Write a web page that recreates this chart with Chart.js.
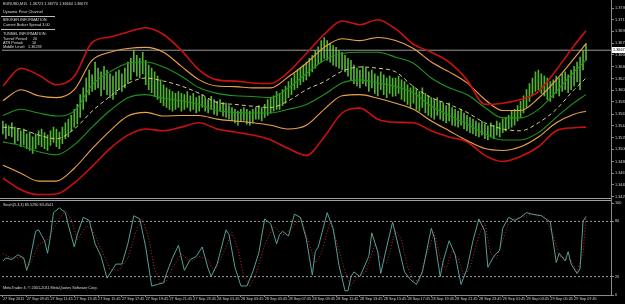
<!DOCTYPE html>
<html><head><meta charset="utf-8">
<script src="https://cdn.jsdelivr.net/npm/chart.js@4"></script>
<style>
html,body{margin:0;padding:0;background:#000;width:625px;height:304px;overflow:hidden}
#c1{position:absolute;left:0;top:0}
#c2{position:absolute;left:0;top:199px}
</style></head><body>
<canvas id="c1" width="625" height="199"></canvas>
<canvas id="c2" width="625" height="105"></canvas>
<script>
// ---------- DATA ----------
const barHigh = [1.3552,1.3547,1.3544,1.3549,1.3542,1.3539,1.3536,1.3539,1.3531,1.3534,
1.3526,1.3531,1.3536,1.3539,1.3533,1.3529,1.3536,1.3542,1.3539,1.3534,
1.3542,1.3549,1.3555,1.3561,1.3571,1.3579,1.3595,1.3606,1.3622,1.3635,
1.3627,1.3648,1.3638,1.3632,1.3641,1.3635,1.3629,1.3625,1.3632,1.3635,
1.3629,1.3638,1.3648,1.3654,1.3667,1.3659,1.3654,1.3664,1.3651,1.3643,
1.3638,1.3632,1.3625,1.3619,1.3611,1.3606,1.3603,1.3600,1.3597,1.3600,
1.3597,1.3595,1.3600,1.3593,1.3597,1.3590,1.3593,1.3595,1.3590,1.3587,
1.3592,1.3587,1.3584,1.3587,1.3582,1.3581,1.3577,1.3574,1.3571,1.3568,
1.3571,1.3574,1.3571,1.3568,1.3571,1.3574,1.3577,1.3574,1.3579,1.3587,
1.3590,1.3593,1.3600,1.3597,1.3603,1.3609,1.3616,1.3622,1.3629,1.3635,
1.3638,1.3643,1.3648,1.3654,1.3659,1.3667,1.3673,1.3683,1.3688,1.3683,
1.3678,1.3675,1.3672,1.3667,1.3664,1.3659,1.3654,1.3651,1.3643,1.3638,
1.3635,1.3641,1.3638,1.3632,1.3635,1.3629,1.3625,1.3632,1.3627,1.3622,
1.3625,1.3622,1.3622,1.3625,1.3619,1.3616,1.3611,1.3606,1.3609,1.3603,
1.3600,1.3606,1.3597,1.3593,1.3590,1.3587,1.3590,1.3584,1.3581,1.3577,
1.3581,1.3574,1.3571,1.3568,1.3571,1.3565,1.3561,1.3558,1.3555,1.3552,
1.3549,1.3552,1.3547,1.3544,1.3549,1.3545,1.3552,1.3549,1.3555,1.3558,
1.3561,1.3568,1.3571,1.3577,1.3584,1.3593,1.3603,1.3613,1.3622,1.3632,
1.3635,1.3629,1.3625,1.3622,1.3616,1.3619,1.3625,1.3622,1.3629,1.3632,
1.3627,1.3635,1.3641,1.3648,1.3656,1.3667,1.3678];
const barLow = [1.3531,1.3523,1.3528,1.3526,1.3515,1.3520,1.3510,1.3513,1.3507,1.3504,
1.3499,1.3507,1.3513,1.3510,1.3507,1.3504,1.3512,1.3517,1.3510,1.3507,
1.3515,1.3523,1.3526,1.3536,1.3542,1.3547,1.3558,1.3571,1.3584,1.3595,
1.3600,1.3603,1.3606,1.3593,1.3603,1.3595,1.3590,1.3587,1.3595,1.3603,
1.3600,1.3606,1.3613,1.3619,1.3632,1.3625,1.3622,1.3629,1.3611,1.3603,
1.3598,1.3593,1.3587,1.3582,1.3577,1.3574,1.3571,1.3568,1.3571,1.3574,
1.3568,1.3571,1.3574,1.3568,1.3571,1.3565,1.3568,1.3574,1.3568,1.3565,
1.3571,1.3563,1.3561,1.3568,1.3560,1.3558,1.3555,1.3552,1.3549,1.3545,
1.3552,1.3553,1.3547,1.3545,1.3549,1.3555,1.3555,1.3552,1.3558,1.3561,
1.3565,1.3568,1.3571,1.3571,1.3577,1.3581,1.3590,1.3595,1.3603,1.3606,
1.3611,1.3616,1.3619,1.3625,1.3632,1.3638,1.3645,1.3648,1.3654,1.3651,
1.3648,1.3643,1.3641,1.3638,1.3635,1.3632,1.3625,1.3619,1.3613,1.3609,
1.3606,1.3613,1.3609,1.3600,1.3606,1.3597,1.3593,1.3603,1.3595,1.3590,
1.3597,1.3592,1.3593,1.3597,1.3587,1.3584,1.3579,1.3574,1.3581,1.3571,
1.3568,1.3574,1.3565,1.3561,1.3558,1.3555,1.3561,1.3555,1.3552,1.3549,
1.3552,1.3545,1.3544,1.3542,1.3545,1.3539,1.3536,1.3533,1.3531,1.3528,
1.3526,1.3529,1.3523,1.3521,1.3526,1.3523,1.3529,1.3526,1.3533,1.3536,
1.3539,1.3542,1.3545,1.3552,1.3558,1.3565,1.3574,1.3584,1.3593,1.3600,
1.3603,1.3597,1.3593,1.3587,1.3584,1.3590,1.3597,1.3593,1.3600,1.3603,
1.3598,1.3603,1.3609,1.3616,1.3603,1.3635,1.3651];

const bandIdx = [0,6,12,18,24,30,36,42,48,54,60,66,72,78,84,90,96,102,108,114,120,126,132,138,144,150,156,162,168,174,180,186,192,196];
const redUpper = [1.3609,1.3638,1.3627,1.3611,1.3625,1.3680,1.3689,1.3697,1.3704,1.3693,1.3667,1.3635,1.3619,1.3617,1.3614,1.3613,1.3632,1.3662,1.3693,1.3715,1.3709,1.3717,1.3702,1.3677,1.3664,1.3648,1.3619,1.3579,1.3581,1.3587,1.3600,1.3635,1.3675,1.3699];
const orangeUpper = [1.3585,1.3603,1.3593,1.3590,1.3603,1.3651,1.3664,1.3670,1.3672,1.3664,1.3641,1.3619,1.3609,1.3608,1.3606,1.3606,1.3624,1.3646,1.3672,1.3686,1.3683,1.3688,1.3683,1.3670,1.3648,1.3632,1.3614,1.3587,1.3569,1.3569,1.3589,1.3619,1.3654,1.3678];
const greenUpper = [1.3561,1.3571,1.3565,1.3560,1.3568,1.3611,1.3632,1.3646,1.3648,1.3640,1.3625,1.3606,1.3597,1.3593,1.3592,1.3590,1.3606,1.3629,1.3651,1.3662,1.3664,1.3664,1.3656,1.3646,1.3622,1.3606,1.3595,1.3574,1.3557,1.3557,1.3571,1.3600,1.3632,1.3651];
const middleLine = [1.3542,1.3539,1.3529,1.3523,1.3539,1.3568,1.3592,1.3613,1.3622,1.3617,1.3609,1.3597,1.3582,1.3579,1.3576,1.3574,1.3585,1.3603,1.3616,1.3633,1.3640,1.3638,1.3632,1.3608,1.3590,1.3579,1.3566,1.3549,1.3539,1.3536,1.3549,1.3571,1.3603,1.3622];
const greenLower = [1.3518,1.3512,1.3502,1.3497,1.3513,1.3542,1.3569,1.3590,1.3595,1.3589,1.3585,1.3579,1.3569,1.3566,1.3565,1.3565,1.3571,1.3579,1.3595,1.3614,1.3619,1.3614,1.3608,1.3598,1.3576,1.3561,1.3547,1.3531,1.3521,1.3521,1.3533,1.3558,1.3582,1.3595];
const orangeLower = [1.3480,1.3467,1.3454,1.3454,1.3475,1.3507,1.3536,1.3560,1.3566,1.3560,1.3561,1.3561,1.3555,1.3552,1.3549,1.3545,1.3539,1.3545,1.3571,1.3593,1.3595,1.3589,1.3581,1.3571,1.3552,1.3536,1.3520,1.3507,1.3504,1.3510,1.3526,1.3549,1.3563,1.3568];
const redLower = [1.3459,1.3440,1.3432,1.3433,1.3451,1.3478,1.3507,1.3529,1.3539,1.3536,1.3542,1.3549,1.3539,1.3534,1.3529,1.3521,1.3507,1.3496,1.3526,1.3565,1.3573,1.3555,1.3550,1.3549,1.3536,1.3526,1.3518,1.3496,1.3486,1.3494,1.3510,1.3536,1.3541,1.3542];

const lastPrice = 1.36673;
const priceTicks = [1.37360,1.37170,1.36980,1.36790,1.36600,1.36400,1.36210,1.36020,1.35830,1.35630,1.35440,1.35250,1.35060,1.34860,1.34670,1.34480,1.34290];

const stochIdx = [0,1,3,5,7,8,9,11,12,14,15,16,17,19,21,22,24,25,27,29,31,33,35,37,38,40,42,44,46,48,50,52,54,55,57,59,61,63,65,67,69,70,72,75,76,78,80,82,84,86,88,90,92,93,94,96,98,100,102,104,105,106,109,111,113,115,116,117,118,120,123,124,126,127,129,131,133,135,137,139,141,144,145,147,148,150,152,154,156,158,160,162,163,165,167,168,170,172,174,176,178,181,184,186,187,189,190,191,193,194,195,196];
const stochMain = [36.9,40.3,38.6,43.7,40.3,26.8,36.9,69.2,70.8,59,45.4,64.1,89.5,94.6,89.5,75.9,52.2,65.8,84.4,81,55.6,42,18.3,28.5,33.6,33.6,55.6,86.1,82.7,52.2,9.8,11.5,13.2,23.4,40.3,53.9,26.8,38.6,42,52.2,28.5,20,33.6,70.8,65.8,30.2,9.8,9.8,25.1,45.4,82.7,77.6,55.6,65.8,69.2,64.1,87.8,84.4,60.7,21.7,47.1,52.2,89.5,72.5,31.9,4.7,4.7,20,25.1,20,42,67.5,47.1,23.4,52.2,79.3,52.2,25.1,16.6,11.5,25.1,72.5,62.4,20,37,59,43.7,11.5,28.5,59,82.7,69.2,30.2,42,48.8,72.5,84.4,81,84.4,89.5,87.8,86.1,79.3,35.2,45.4,37,47.1,33.6,23.4,28.5,80,85.5];
const signalIdx = [0,3,6,9,12,15,18,21,23,25,28,30,33,36,39,42,45,47,49,51,53,55,57,60,63,66,69,71,74,77,79,81,83,85,88,91,94,97,100,103,105,107,110,112,115,117,119,122,125,127,129,132,134,136,138,140,142,145,147,149,151,153,155,157,160,162,164,166,168,170,172,175,178,182,185,187,189,191,193,195,196];
const stochSignal = [45,40,41,33,55,60,78,92,82,60,75,72,50,28,27,40,72,82,62,28,12,15,30,45,36,42,38,25,45,68,50,20,10,22,55,75,65,72,85,55,35,45,80,60,25,10,20,25,55,40,35,70,60,30,16,15,40,68,40,28,48,40,20,30,65,78,45,40,60,78,83,85,88,86,65,42,40,38,25,45,83.5];
const stochTicks = [0,20,80,100];
const stochLevels = [80,20];

const timeTickIdx = [0,8,16,24,32,40,48,56,64,72,80,88,96,104,112,120,128,136,144,152,160,168,176,184,192];
const timeLabels = ["27 Sep 2011","27 Sep 09:45","27 Sep 11:45","27 Sep 13:45","27 Sep 15:45","27 Sep 17:45","27 Sep 19:45","27 Sep 21:45","27 Sep 23:45","28 Sep 01:45","28 Sep 03:45","28 Sep 05:45","28 Sep 07:45","28 Sep 09:45","28 Sep 11:45","28 Sep 13:45","28 Sep 15:45","28 Sep 17:45","28 Sep 19:45","28 Sep 21:45","28 Sep 23:45","29 Sep 01:45","29 Sep 03:45","29 Sep 05:45","29 Sep 07:45"];

// ---------- SETUP ----------
const FONT = 'Liberation Sans';
const TINY = 3.8;
Chart.defaults.font.family = FONT;
Chart.defaults.color = '#d0d0d0';
const X_MIN = -0.3, X_MAX = 204.4;
const AXIS = '#8a8a8a';

function pts(idx, vals){ return idx.map((x,i)=>({x:x, y:vals[i]})); }
function band(label, idx, vals, color, width, dash){
  return {type:'line', label, data:pts(idx,vals), borderColor:color, borderWidth:width,
    borderDash:dash||[], pointRadius:0, cubicInterpolationMode:'monotone', fill:false};
}

const mainFrame = {
  id:'mainFrame',
  afterDraw(chart){
    const ctx = chart.ctx, y = chart.scales.y;
    ctx.save();
    ctx.font = TINY + 'px "' + FONT + '"';
    ctx.fillStyle = '#dcdcdc';
    ctx.textBaseline = 'middle';
    ctx.textAlign = 'left';
    ctx.fillText('EURUSD,M15  1.36723 1.36770 1.36664 1.36673', 3, 4);
    ctx.fillText('Dynamic Price Channel', 3, 12);
    ctx.fillText('BROKER INFORMATION:', 3, 20);
    ctx.fillText('Current Broker Spread 3.00', 3, 25);
    ctx.fillText('TUNNEL INFORMATION:', 3, 34);
    ctx.fillText('Tunnel Period:', 3, 39); ctx.fillText('20', 33, 39);
    ctx.fillText('ATR Period:', 3, 43); ctx.fillText('10', 32, 43);
    ctx.fillText('Middle Level:', 3, 47); ctx.fillText('1.36233', 28, 47);
    ctx.fillStyle = '#bdbdbd';
    ctx.fillRect(1, 16, 54, 1);
    ctx.fillRect(1, 29, 54, 1);
    ctx.fillStyle = AXIS;
    ctx.fillRect(611, 0, 1, 199);
    ctx.fillStyle = '#a0a0a0';
    ctx.fillRect(0, 198, 611, 1);
    const py = Math.round(y.getPixelForValue(lastPrice));
    ctx.fillStyle = '#ffffff';
    ctx.fillRect(612, py-3, 13, 6);
    ctx.fillStyle = '#000';
    ctx.fillText(lastPrice.toFixed(5), 613, py);
    ctx.restore();
  }
};

const stochFrame = {
  id:'stochFrame',
  afterDraw(chart){
    const ctx = chart.ctx;
    ctx.save();
    ctx.fillStyle = '#a0a0a0';
    ctx.fillRect(0, 1, 611, 1);
    ctx.fillStyle = AXIS;
    ctx.fillRect(611, 0, 1, 97);
    ctx.fillRect(0, chart.chartArea.bottom, 611, 1);
    ctx.font = TINY + 'px "' + FONT + '"';
    ctx.fillStyle = '#dcdcdc';
    ctx.textBaseline = 'middle';
    ctx.fillText('Stoch(5,3,3) 85.5290 83.4541', 3, 6);
    ctx.fillText('MetaTrader 4, \u00a9 2001-2011 MetaQuotes Software Corp.', 3, 89);
    ctx.restore();
  }
};

new Chart(document.getElementById('c1'), {
  type:'bar',
  data:{datasets:[
    band('Red upper', bandIdx, redUpper, '#cc1010', 1.6),
    band('Orange upper', bandIdx, orangeUpper, '#eea24a', 1.1),
    band('Green upper', bandIdx, greenUpper, '#1f941f', 1.1),
    band('Middle', bandIdx, middleLine, '#d6c98a', 1, [4,3]),
    band('Green lower', bandIdx, greenLower, '#1f941f', 1.1),
    band('Orange lower', bandIdx, orangeLower, '#eea24a', 1.1),
    band('Red lower', bandIdx, redLower, '#cc1010', 1.6),
    {type:'line', label:'Price', data:[{x:X_MIN,y:lastPrice},{x:X_MAX,y:lastPrice}],
      borderColor:'#9a9a9a', borderWidth:1, pointRadius:0},
    {type:'bar', label:'Bars', data:barHigh.map((h,i)=>({x:i, y:[barLow[i], h]})),
      backgroundColor:'#52b232', borderWidth:0, barThickness:1, grouped:false}
  ]},
  options:{
    responsive:false, animation:false, devicePixelRatio:1,
    layout:{padding:{top:2,left:2,right:0,bottom:1}},
    plugins:{legend:{display:false}, tooltip:{enabled:false}},
    scales:{
      x:{type:'linear', display:false, min:X_MIN, max:X_MAX, offset:false, grid:{offset:false}},
      y:{type:'linear', position:'right', min:1.34302, max:1.37438, beginAtZero:false,
        afterFit(s){ s.width = 14; },
        afterBuildTicks(s){ s.ticks = priceTicks.map(v=>({value:v})); },
        ticks:{font:{size:TINY}, color:'#d0d0d0', padding:1, callback:(v)=>Number(v).toFixed(5)},
        grid:{drawOnChartArea:false, drawTicks:true, tickLength:3, tickColor:AXIS},
        border:{display:true, color:AXIS}
      }
    }
  },
  plugins:[mainFrame]
});

new Chart(document.getElementById('c2'), {
  type:'line',
  data:{datasets:[
    {label:'Stoch', data:pts(stochIdx, stochMain), borderColor:'#579f99', borderWidth:1, pointRadius:0, tension:0},
    {label:'Signal', data:pts(signalIdx, stochSignal), borderColor:'#c82828', borderWidth:1, borderDash:[1,2], pointRadius:0, tension:0},
    {label:'L80', data:[{x:X_MIN,y:stochLevels[0]},{x:X_MAX,y:stochLevels[0]}], borderColor:'#9a9a9a', borderWidth:1, borderDash:[2,2], pointRadius:0},
    {label:'L20', data:[{x:X_MIN,y:stochLevels[1]},{x:X_MAX,y:stochLevels[1]}], borderColor:'#9a9a9a', borderWidth:1, borderDash:[2,2], pointRadius:0}
  ]},
  options:{
    responsive:false, animation:false, devicePixelRatio:1,
    layout:{padding:{top:4,left:2,right:0,bottom:0}},
    plugins:{legend:{display:false}, tooltip:{enabled:false}},
    scales:{
      x:{type:'linear', min:X_MIN, max:X_MAX, offset:false,
        afterFit(s){ s.height = 9; },
        afterBuildTicks(s){ s.ticks = timeTickIdx.map(v=>({value:v})); },
        ticks:{font:{size:TINY}, color:'#d0d0d0', padding:0, align:'start', autoSkip:false, maxRotation:0, minRotation:0,
          callback:(v,i)=>timeLabels[i]},
        grid:{drawOnChartArea:false, drawTicks:true, tickLength:2, tickColor:AXIS},
        border:{display:true, color:AXIS}
      },
      y:{type:'linear', position:'right', min:0, max:100,
        afterFit(s){ s.width = 14; },
        afterBuildTicks(s){ s.ticks = stochTicks.map(v=>({value:v})); },
        ticks:{font:{size:TINY}, color:'#d0d0d0', padding:1, callback:(v)=>String(v)},
        grid:{drawOnChartArea:false, drawTicks:true, tickLength:3, tickColor:AXIS},
        border:{display:true, color:AXIS}
      }
    }
  },
  plugins:[stochFrame]
});
</script>
</body></html>
